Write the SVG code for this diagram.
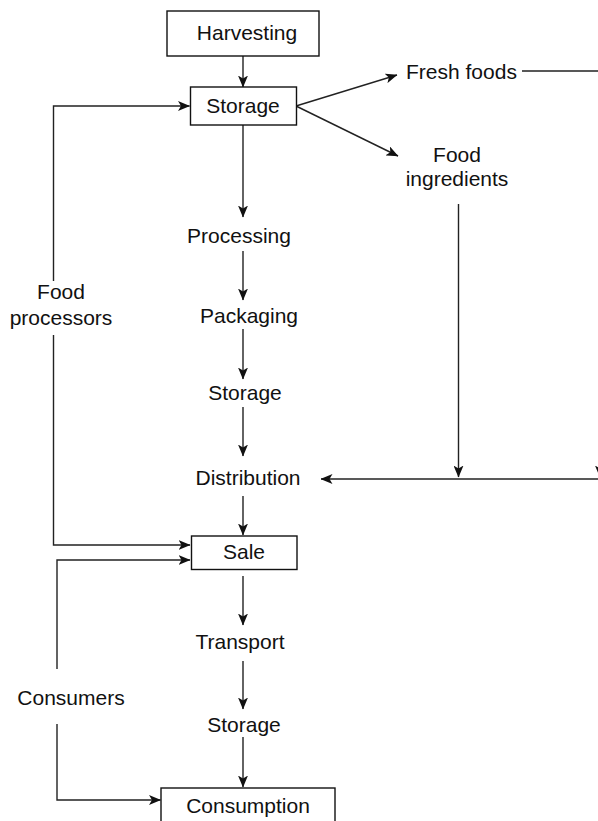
<svg xmlns="http://www.w3.org/2000/svg" width="598" height="821" viewBox="0 0 598 821">
<style>
.t{font-family:"Liberation Sans",Arial,sans-serif;font-size:21px;fill:#111;text-anchor:middle}
.box{fill:#fff;stroke:#111;stroke-width:1.4}
.c{fill:none;stroke:#222;stroke-width:1.4}
.a{marker-end:url(#arr)}
</style>
<defs>
<marker id="arr" markerUnits="userSpaceOnUse" viewBox="0 0 12 10" refX="11.5" refY="5" markerWidth="12" markerHeight="10" orient="auto">
<path d="M0,0 L12,5 L0,10 L3,5 z" fill="#111"/>
</marker>
</defs>
<rect width="598" height="821" fill="#fff"/>
<g id="connectors">
<path class="c a" d="M243,56 V87"/>
<path class="c a" d="M243,125 V217"/>
<path class="c a" d="M243,251 V300"/>
<path class="c a" d="M243,329 V379"/>
<path class="c a" d="M243,407 V456"/>
<path class="c a" d="M243,496 V535"/>
<path class="c a" d="M243,576 V625"/>
<path class="c a" d="M243,661 V709"/>
<path class="c a" d="M243,737 V787"/>
<path class="c a" d="M296,106 L397,75"/>
<path class="c a" d="M296,106 L398,156"/>
<path class="c a" d="M522,71 H600 V477"/>
<path class="c a" d="M458.5,204 V477"/>
<path class="c a" d="M600,479 H321"/>
<path class="c a" d="M53.5,281 V106 H189.5"/>
<path class="c a" d="M53.5,335 V545 H190"/>
<path class="c a" d="M57,669 V560 H190"/>
<path class="c a" d="M57,724 V800 H160.5"/>
</g>
<g id="harvesting"><rect class="box" x="167" y="11" width="152" height="45"/><text class="t" x="247" y="40">Harvesting</text></g>
<g id="storage1"><rect class="box" x="190.5" y="87" width="106" height="38"/><text class="t" x="243" y="113">Storage</text></g>
<g id="fresh-foods"><text class="t" x="406" y="78.5" style="text-anchor:start">Fresh foods</text></g>
<g id="food-ingredients"><text class="t" x="457" y="162">Food</text><text class="t" x="457" y="186">ingredients</text></g>
<g id="processing"><text class="t" x="239" y="243">Processing</text></g>
<g id="packaging"><text class="t" x="249" y="323">Packaging</text></g>
<g id="storage2"><text class="t" x="245" y="400">Storage</text></g>
<g id="distribution"><text class="t" x="248" y="485">Distribution</text></g>
<g id="sale"><rect class="box" x="191.5" y="536" width="105.5" height="33.5"/><text class="t" x="244" y="559">Sale</text></g>
<g id="transport"><text class="t" x="240" y="649">Transport</text></g>
<g id="storage3"><text class="t" x="244" y="732">Storage</text></g>
<g id="consumption"><rect class="box" x="161" y="788" width="174" height="42"/><text class="t" x="248" y="813">Consumption</text></g>
<g id="food-processors"><text class="t" x="61" y="299">Food</text><text class="t" x="61" y="325">processors</text></g>
<g id="consumers"><text class="t" x="71" y="705">Consumers</text></g>
</svg>
